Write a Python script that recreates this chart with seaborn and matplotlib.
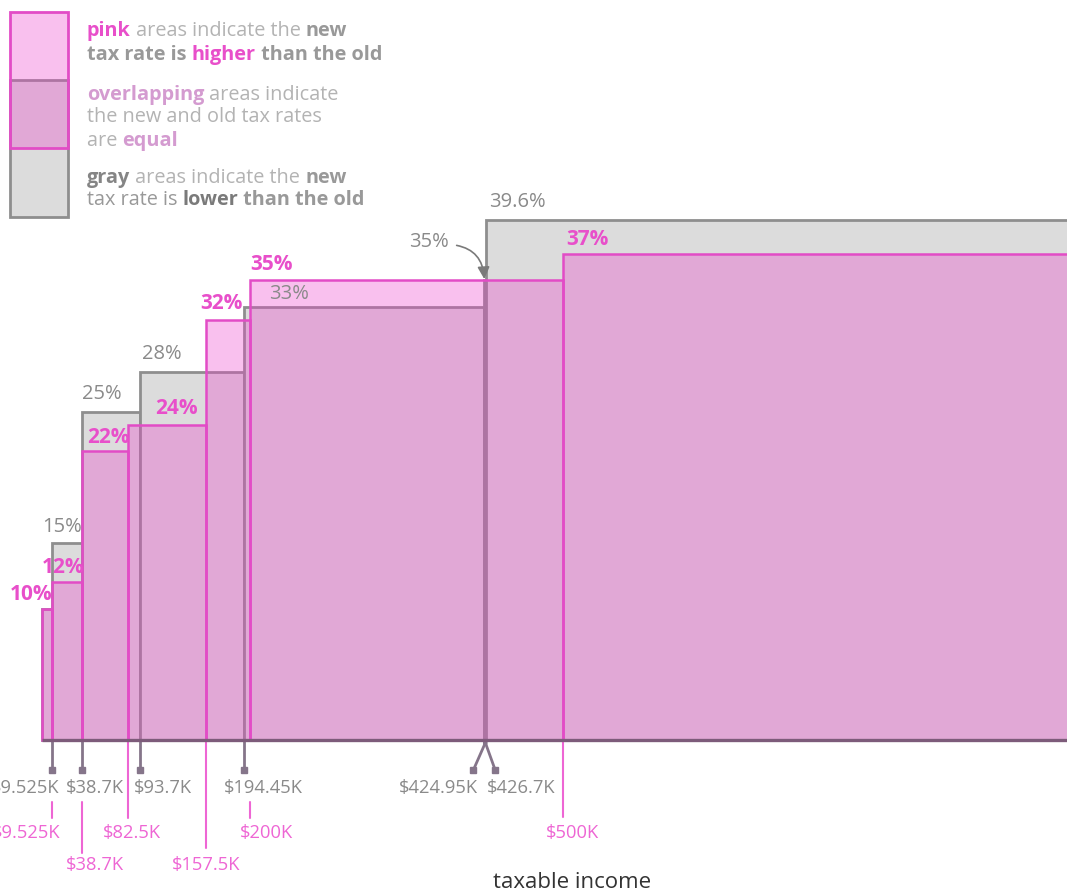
import matplotlib
matplotlib.use("Agg")
import matplotlib.pyplot as plt
import seaborn as sns
from matplotlib.patches import Rectangle
from matplotlib.font_manager import FontProperties

# ---------------- data ----------------
old_lower = [0, 9.525, 38.7, 93.7, 194.45, 424.95, 426.7]      # $K bracket lower bounds (old law)
old_rates = [10, 15, 25, 28, 33, 35, 39.6]                      # %
new_lower = [0, 9.525, 38.7, 82.5, 157.5, 200, 500]             # $K bracket lower bounds (new law)
new_rates = [10, 12, 22, 24, 32, 35, 37]                        # %
top_income = 1000                                               # end of last bracket (off-screen)
old_rate_labels = ["10%", "15%", "25%", "28%", "33%", "35%", "39.6%"]
new_rate_labels = ["10%", "12%", "22%", "24%", "32%", "35%", "37%"]
old_tick_labels = ["$9.525K", "$38.7K", "$93.7K", "$194.45K", "$424.95K", "$426.7K"]
new_tick_labels = ["$9.525K", "$38.7K", "$82.5K", "$157.5K", "$200K", "$500K"]
x_title = "taxable income"

# ---------------- style ----------------
W, H = 1067, 894
PINK = "#e24cc6"
PINK_LINE = "#ee66d4"
PINK_TXT = "#e84fca"
PINK_FILL = (0.93, 0.25, 0.80, 0.33)
GRAY_FILL = "#dcdcdc"
GRAY_EDGE = "#8e8e8e"
GRAY_TXT = "#8a8a8a"
LIGHT_TXT = "#b3b3b3"
LILAC = "#d49bd0"
FONT = "Open Sans"

sns.set_theme(style="white")
plt.rcParams["font.family"] = [FONT, "DejaVu Sans"]

fig = plt.figure(figsize=(W / 100, H / 100), dpi=100)
ax = fig.add_axes([0, 0, 1, 1])

# pixel layout of the plotting area
X0, XS = 42.0, 1.041       # px of $0, px per $K
Y0, YS = 740.0, 13.13      # px of 0%, px per %
def px2x(px):
    return (px - X0) / XS
def px2y(py):
    return (Y0 - py) / YS

# ---------------- bars (histogram with bracket edges) ----------------
sns.histplot(x=old_lower, weights=old_rates, bins=old_lower + [top_income], ax=ax,
             facecolor=GRAY_FILL, edgecolor=GRAY_EDGE, linewidth=2.0, zorder=2)
sns.histplot(x=new_lower, weights=new_rates, bins=new_lower + [top_income], ax=ax,
             facecolor=PINK_FILL, edgecolor=PINK, linewidth=1.8, zorder=3)
ax.plot([0, top_income], [0, 0], color="#7d5b7a", lw=2.4, zorder=5, solid_capstyle="butt")
ax.set_xlim(px2x(0), px2x(W))
ax.set_ylim(px2y(H), px2y(0))
ax.axis("off")

# ---------------- rate labels ----------------
old_lab_off = {1: (-10, 16), 2: (0, 18), 3: (2, 18), 4: (25, 13), 6: (3, 18)}
new_lab_off = {0: (-32, 14), 1: (-10, 15), 2: (5, 14), 3: (27, 16), 4: (-6, 16), 5: (0, 16), 6: (4, 15)}
for i, (dx, dy) in old_lab_off.items():
    ax.annotate(old_rate_labels[i], xy=(old_lower[i], old_rates[i]), xytext=(dx, dy),
                textcoords="offset pixels", ha="left", va="center", fontsize=14.5,
                color=GRAY_TXT, zorder=6)
for i, (dx, dy) in new_lab_off.items():
    ax.annotate(new_rate_labels[i], xy=(new_lower[i], new_rates[i]), xytext=(dx, dy),
                textcoords="offset pixels", ha="left", va="center", fontsize=15,
                fontweight="bold", color=PINK_TXT, zorder=6)
# the narrow 35% old bracket gets an arrow
ax.annotate(old_rate_labels[5], xy=(old_lower[5], old_rates[5]), xytext=(-55, 38),
            textcoords="offset pixels", ha="center", va="center", fontsize=14.5,
            color=GRAY_TXT, zorder=6,
            arrowprops=dict(arrowstyle="-|>,head_length=0.5,head_width=0.25", color="#7a7a7a",
                            lw=1.2, connectionstyle="arc3,rad=-0.45", relpos=(1.0, 0.4),
                            shrinkA=3, shrinkB=1))

# ---------------- income ticks & labels ----------------
tick_end = px2y(770)
old_tick_dx = [0, 0, 0, 0, -11, 9]                 # px spread at the tick end
old_lab = [(8, "right"), (13, "center"), (23, "center"), (19, "center"), (-6, "right"), (1, "left")]
for k, t in enumerate(old_lower[1:]):
    xe = t + old_tick_dx[k] / XS
    ax.plot([t, t, xe], [0, px2y(745), tick_end], color="#85758a", lw=2, zorder=4,
            solid_capstyle="butt")
    ax.plot([xe], [tick_end], marker="s", ms=4.5, color="#85758a", zorder=4)
    dx, ha = old_lab[k]
    ax.text(t + dx / XS, px2y(788), old_tick_labels[k], ha=ha, va="center",
            fontsize=13.2, color=GRAY_TXT)

new_line_px = [(802, 818), (802, 853), (742, 818), (742, 848), (802, 818), (742, 817)]
new_lab = [(9, "right", 833), (13, "center", 865), (4, "center", 833), (0, "center", 865),
           (16, "center", 833), (10, "center", 833)]
for k, t in enumerate(new_lower[1:]):
    p0, p1 = new_line_px[k]
    ax.plot([t, t], [px2y(p0), px2y(p1)], color=PINK_LINE, lw=1.5, zorder=4)
    dx, ha, py = new_lab[k]
    ax.text(t + dx / XS, px2y(py), new_tick_labels[k], ha=ha, va="center",
            fontsize=13.2, color=PINK_LINE)

fig.text(572 / W, 1 - 882 / H, x_title, ha="center", va="center", fontsize=16, color="#333333")

# ---------------- legend ----------------
fig.patches.append(Rectangle((10 / W, 1 - 217 / H), 58 / W, 137 / H, transform=fig.transFigure,
                             facecolor=GRAY_FILL, edgecolor=GRAY_EDGE, lw=2, zorder=1))
fig.patches.append(Rectangle((10 / W, 1 - 148 / H), 58 / W, 136 / H, transform=fig.transFigure,
                             facecolor=PINK_FILL, edgecolor=PINK, lw=2, zorder=2))

fig.canvas.draw()
rend = fig.canvas.get_renderer()
LEG_SIZE = 14.3
def fp(bold):
    return FontProperties(family=[FONT, "DejaVu Sans"], weight="bold" if bold else "normal",
                          size=LEG_SIZE)
def seg_w(s, prop):
    w1, _, _ = rend.get_text_width_height_descent(s + "x", prop, ismath=False)
    w2, _, _ = rend.get_text_width_height_descent("x", prop, ismath=False)
    return w1 - w2

G = "#999999"
legend_lines = [
    (36, [("pink", True, PINK_TXT), (" areas indicate the ", False, LIGHT_TXT), ("new", True, G)]),
    (60, [("tax rate is ", True, G), ("higher", True, PINK_TXT), (" than the old", True, G)]),
    (100, [("overlapping", True, LILAC), (" areas indicate", False, LIGHT_TXT)]),
    (122, [("the new and old tax rates", False, LIGHT_TXT)]),
    (146, [("are ", False, LIGHT_TXT), ("equal", True, LILAC)]),
    (183, [("gray", True, "#858585"), (" areas indicate the ", False, LIGHT_TXT), ("new", True, G)]),
    (205, [("tax rate is ", False, G), ("lower", True, "#7a7a7a"), (" than the old", True, G)]),
]
for base, segs in legend_lines:
    x = 87.0
    for s, bold, col in segs:
        prop = fp(bold)
        fig.text(x / W, 1 - base / H, s, fontproperties=prop, color=col, va="baseline", ha="left")
        x += seg_w(s, prop)

fig.savefig("out.png", dpi=100)
